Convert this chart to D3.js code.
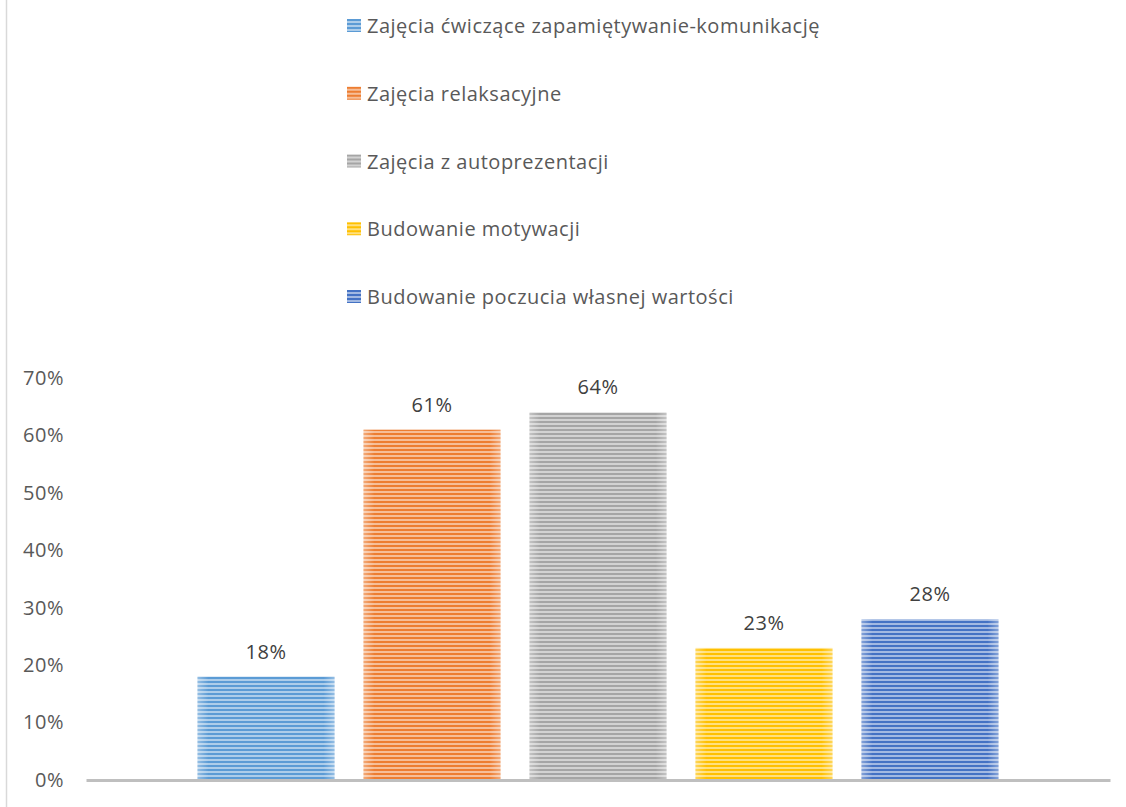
<!DOCTYPE html>
<html>
<head>
<meta charset="utf-8">
<script src="https://cdn.jsdelivr.net/npm/d3@7"></script>
<style>
  html, body { margin: 0; padding: 0; background: #ffffff; }
  svg { display: block; font-family: "Open Sans", Lato, sans-serif; }
</style>
</head>
<body>
<svg id="chart" width="1126" height="807"></svg>
<script>
// ---- data ----
const seriesNames = [
  "Zajęcia ćwiczące zapamiętywanie-komunikację",
  "Zajęcia relaksacyjne",
  "Zajęcia z autoprezentacji",
  "Budowanie motywacji",
  "Budowanie poczucia własnej wartości"
];
const seriesValues = [0.18, 0.61, 0.64, 0.23, 0.28];
const seriesColors = ["#5B9BD5", "#ED7D31", "#A5A5A5", "#FFC000", "#4472C4"];
const yTicks = [0, 0.1, 0.2, 0.3, 0.4, 0.5, 0.6, 0.7];

// ---- layout ----
const svg = d3.select("#chart");
const W = 1126, H = 807;
const plot = { left: 86, right: 1110, top: 378, bottom: 780 };
const FONT = "'Open Sans', Lato, sans-serif";
const FS = 20, LS = 0.5;

// frame line on the left
svg.append("line")
  .attr("x1", 6.5).attr("x2", 6.5).attr("y1", 0).attr("y2", H)
  .attr("stroke", "#D9D9D9").attr("stroke-width", 1.5);

const defs = svg.append("defs");
seriesColors.forEach((c, i) => {
  const light = d3.interpolateRgb(c, "#ffffff")(0.5);
  const p = defs.append("pattern")
    .attr("id", "stripe" + i)
    .attr("patternUnits", "userSpaceOnUse")
    .attr("width", 8).attr("height", 4);
  p.append("rect").attr("x", 0).attr("y", 0).attr("width", 8).attr("height", 4).attr("fill", light);
  p.append("rect").attr("x", 0).attr("y", 1).attr("width", 8).attr("height", 2).attr("fill", c);
});
const g = defs.append("linearGradient").attr("id", "edgeGlow")
  .attr("x1", "0").attr("x2", "1").attr("y1", "0").attr("y2", "0");
[[0, 0.35], [0.08, 0], [0.92, 0], [1, 0.35]].forEach(([o, a]) => {
  g.append("stop").attr("offset", o).attr("stop-color", "#ffffff").attr("stop-opacity", a);
});

// scales
const y = d3.scaleLinear().domain([0, 0.7]).range([plot.bottom, plot.top]);
const x = d3.scaleBand().domain(seriesNames)
  .range([plot.left, plot.right])
  .paddingInner(0.175).paddingOuter(0.672);

// y axis labels
const yAxis = d3.axisLeft(y).tickValues(yTicks).tickFormat(d3.format(".0%")).tickSize(0).tickPadding(0);
const yg = svg.append("g").attr("transform", "translate(64,0)").call(yAxis);
yg.select(".domain").remove();
yg.selectAll("text").attr("font-size", FS).attr("fill", "#595959")
  .attr("font-family", FONT).attr("letter-spacing", LS);

// bars
const data = seriesNames.map((n, i) => ({ name: n, value: seriesValues[i], i }));
const bars = svg.append("g");
bars.selectAll("rect.bar").data(data).join("rect")
  .attr("class", "bar")
  .attr("x", d => x(d.name))
  .attr("width", x.bandwidth())
  .attr("y", d => y(d.value))
  .attr("height", d => y(0) - y(d.value))
  .attr("fill", d => `url(#stripe${d.i})`);
bars.selectAll("rect.glow").data(data).join("rect")
  .attr("class", "glow")
  .attr("x", d => x(d.name))
  .attr("width", x.bandwidth())
  .attr("y", d => y(d.value))
  .attr("height", d => y(0) - y(d.value))
  .attr("fill", "url(#edgeGlow)");

// data labels
svg.append("g").selectAll("text").data(data).join("text")
  .attr("x", d => x(d.name) + x.bandwidth() / 2)
  .attr("y", d => y(d.value) - 18)
  .attr("text-anchor", "middle")
  .attr("font-size", FS)
  .attr("letter-spacing", LS)
  .attr("font-family", FONT)
  .attr("fill", "#404040")
  .text(d => d3.format(".0%")(d.value));

// x axis line
const xAxis = d3.axisBottom(d3.scaleLinear().domain([0, 1]).range([plot.left, plot.right])).tickValues([]).tickSizeOuter(0);
const xg = svg.append("g").attr("transform", `translate(0,${plot.bottom})`).call(xAxis);
xg.select(".domain").attr("stroke", "#BFBFBF").attr("stroke-width", 3);

// legend
const legendY = d3.scalePoint().domain(seriesNames).range([26, 297]);
const leg = svg.append("g").selectAll("g").data(data).join("g")
  .attr("transform", d => `translate(347,${legendY(d.name)})`);
leg.append("rect").attr("x", 0).attr("y", -7).attr("width", 14).attr("height", 13)
  .attr("fill", d => `url(#stripe${d.i})`);
leg.append("text").attr("x", 20).attr("y", 0).attr("dy", "0.35em")
  .attr("font-size", FS).attr("letter-spacing", LS).attr("font-family", FONT).attr("fill", "#595959")
  .text(d => d.name);
</script>
</body>
</html>
